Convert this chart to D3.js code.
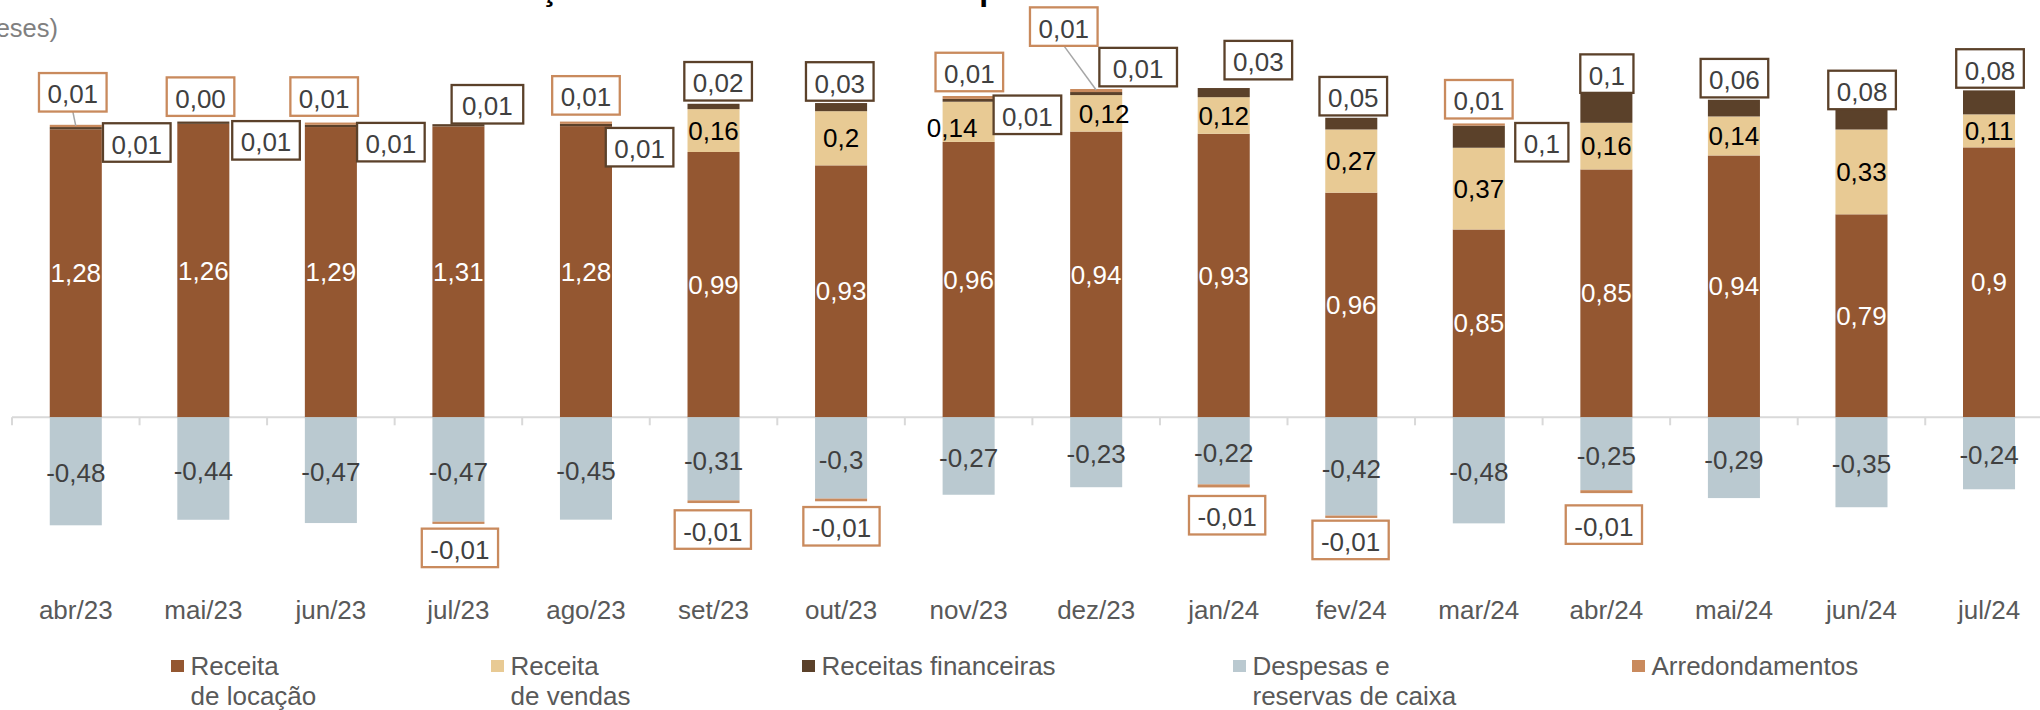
<!DOCTYPE html>
<html><head><meta charset="utf-8">
<script src="https://cdn.jsdelivr.net/npm/d3@7"></script>
<style>
body{margin:0;background:#fff;}
svg{display:block;}
text{font-family:"Liberation Sans",Arial,sans-serif;}
</style>
</head><body>
<svg id="chart" width="2040" height="710"></svg>
<script>
// ---------------- DATA ----------------
const meses = ["abr/23","mai/23","jun/23","jul/23","ago/23","set/23","out/23","nov/23","dez/23","jan/24","fev/24","mar/24","abr/24","mai/24","jun/24","jul/24"];
const receitaLocacao      = [1.28,1.26,1.29,1.31,1.28,0.99,0.93,0.96,0.94,0.93,0.96,0.85,0.85,0.94,0.79,0.90];
const receitaVendas       = [0,0,0,0,0,0.16,0.20,0.14,0.12,0.12,0.27,0.37,0.16,0.14,0.33,0.11];
const receitasFinanceiras = [0.01,0.01,0.01,0.01,0.01,0.02,0.03,0.01,0.01,0.03,0.05,0.10,0.10,0.06,0.08,0.08];
const despesasReservas    = [-0.48,-0.44,-0.47,-0.47,-0.45,-0.31,-0.30,-0.27,-0.23,-0.22,-0.42,-0.48,-0.25,-0.29,-0.35,-0.24];
const arredondamentos     = [0.01,0,0.01,-0.01,0.01,-0.01,-0.01,0.01,0.01,-0.01,-0.01,0.01,-0.01,null,null,null];
// bar heights in the reference are proportional to value x monthly factor (relative base of cotas)
const fatorCotas          = [1.00,1.035,1.00,0.987,1.011,1.191,1.204,1.275,1.351,1.355,1.04,0.982,1.296,1.238,1.142,1.333];
const legendaNomes = [["Receita","de locação"],["Receita","de vendas"],["Receitas financeiras"],["Despesas e","reservas de caixa"],["Arredondamentos"]];
const subtitulo = "(últimos 16 meses)";
const titulo = "Evolução do resultado distribuído por cota";

// ---------------- STYLE / LAYOUT ----------------
const cores = {loc:"#945731", ven:"#E8CA94", fin:"#5B412A", desp:"#BAC9D0", arr:"#C98A5D"};
const FS = 26;
// callout boxes: [dx from bar centre, dy of box centre from stack top/bottom, leader line / extra width]
const caixaFin = {
 "abr/23":[61,17.7],"mai/23":[62.7,18.8],"jun/23":[60,19.6],"jul/23":[29,-19.9,0,4],"ago/23":[53.6,25.6],
 "set/23":[4.6,-22.5],"out/23":[-1.3,-21.6],"nov/23":[58.8,18.8],"dez/23":[42,-21.9,0,10],"jan/24":[34.6,-27.9],
 "fev/24":[2,-21.6],"mar/24":[63,18.8],"abr/24":[0.5,-20],"mai/24":[0.5,-21.6],"jun/24":[0.6,-19],"jul/24":[1,-21.9]
};
const caixaArr = {
 "abr/23":[-3,-32.5,1],"mai/23":[-2.8,-24.9],"jun/23":[-6.7,-26],"ago/23":[0,-26.2],"nov/23":[0.7,-24],
 "dez/23":[-32.4,-62.4,1],"mar/24":[0,-24.2],
 "jul/23":[1.5,24],"set/23":[-0.7,26.5],"out/23":[0.4,25],"jan/24":[3.4,27.8],"fev/24":[-0.7,22],"abr/24":[-2.5,31.5]
};
const ajusteVendas = {"nov/23":[-16.5,6],"dez/23":[8,1]};
const legendaX = [171,491,802,1233,1632];

const loc = d3.formatLocale({decimal:",",thousands:".",grouping:[3],currency:["R$",""],minus:"-"});
const f2 = loc.format(".2~f");
const fmt = v => (Math.abs(v) < 0.005 ? "0,00" : f2(v));

const svg = d3.select("#chart");
const step = 127.55;
const x = d3.scaleBand().domain(meses).range([12, 12 + 16*step]).paddingInner(0.592).paddingOuter(0.296);
const y = d3.scaleLinear().domain([-0.6, 1.8]).range([552.3, 12.3]);
const bw = x.bandwidth();
const cx = m => x(m) + bw/2;

// title (above the visible area, only descenders show) and subtitle
svg.append("text").attr("x",453).attr("y",0).attr("font-size",32).attr("font-weight","bold").attr("fill","#000").text(titulo);
svg.append("text").attr("x",58).attr("y",37).attr("text-anchor","end").attr("font-size",25.5)
   .attr("font-family","Roboto, sans-serif").attr("font-weight",300).attr("fill","#808080").text(subtitulo);

// axis line + ticks
const y0 = y(0);
svg.append("line").attr("x1",12).attr("x2",2040).attr("y1",y0).attr("y2",y0).attr("stroke","#D9D9D9").attr("stroke-width",2);
const tickXs = meses.map(m => x(m) - x.step()*x.paddingInner()/2).concat([12+16*step]);
svg.selectAll("line.tick").data(tickXs).enter().append("line").attr("class","tick")
  .attr("x1",d=>d).attr("x2",d=>d).attr("y1",y0).attr("y2",y0+8).attr("stroke","#D9D9D9").attr("stroke-width",2);

// build segments
const segs = [];
meses.forEach((m,i) => {
  const f = fatorCotas[i];
  let acc = 0;
  const pos = [["loc",receitaLocacao[i]],["ven",receitaVendas[i]],["fin",receitasFinanceiras[i]]];
  if (arredondamentos[i] !== null && arredondamentos[i] >= 0) pos.push(["arr",arredondamentos[i]]);
  pos.forEach(([k,v]) => { if (v>0 || k==="arr") { segs.push({m,i,k,v,a:acc,b:acc+v*f}); acc += v*f; } });
  let nacc = 0;
  const neg = [["desp",despesasReservas[i]]];
  if (arredondamentos[i] !== null && arredondamentos[i] < 0) neg.push(["arr",arredondamentos[i]]);
  neg.forEach(([k,v]) => { segs.push({m,i,k,v,a:nacc+v*f,b:nacc}); nacc += v*f; });
});

svg.selectAll("rect.seg").data(segs).enter().append("rect").attr("class","seg")
  .attr("x",d=>x(d.m)).attr("width",bw)
  .attr("y",d=>y(d.b)).attr("height",d=>Math.max(0,y(d.a)-y(d.b)))
  .attr("fill",d=>cores[d.k]);

// in-bar labels
const inner = segs.filter(d => d.k==="loc" || d.k==="ven" || d.k==="desp");
svg.selectAll("text.in").data(inner).enter().append("text").attr("class","in")
  .attr("x",d=> cx(d.m) + (d.k==="ven" && ajusteVendas[d.m] ? ajusteVendas[d.m][0] : 0))
  .attr("y",d=> (y(d.a)+y(d.b))/2 + (d.k==="ven" && ajusteVendas[d.m] ? ajusteVendas[d.m][1] : 0) + (d.k==="desp"?2:0))
  .attr("dy","0.35em").attr("text-anchor","middle").attr("font-size",FS)
  .attr("fill",d=> d.k==="loc" ? "#FFFFFF" : d.k==="ven" ? "#000000" : "#404040")
  .text(d=>fmt(d.v));

// callout boxes
function caixa(cxp, cyp, txt, stroke, extra){
  const g = svg.append("g");
  const r = g.append("rect").attr("fill","#fff").attr("stroke",stroke).attr("stroke-width",2.3);
  const t = g.append("text").attr("x",cxp).attr("y",cyp+2).attr("dy","0.35em").attr("text-anchor","middle")
     .attr("font-size",FS).attr("fill","#404040").text(txt);
  const w = t.node().getComputedTextLength() + 17 + (extra||0), h = 38.5;
  r.attr("x",cxp-w/2).attr("y",cyp-h/2).attr("width",w).attr("height",h);
}
meses.forEach((m,i) => {
  const f = fatorCotas[i];
  const top = y(receitaLocacao[i]*f + receitaVendas[i]*f + receitasFinanceiras[i]*f + (arredondamentos[i]>0 ? arredondamentos[i]*f : 0));
  const bot = y(despesasReservas[i]*f + (arredondamentos[i]!==null && arredondamentos[i]<0 ? arredondamentos[i]*f : 0));
  const cf = caixaFin[m];
  caixa(cx(m)+cf[0], top+cf[1], fmt(receitasFinanceiras[i]), cores.fin, cf[3]);
  if (arredondamentos[i] !== null) {
    const ca = caixaArr[m];
    const v = arredondamentos[i];
    const bcx = cx(m)+ca[0], bcy = (v>=0 ? top : bot) + ca[1];
    if (ca[2]) {
      svg.insert("line","g").attr("x1",bcx).attr("y1",bcy+19).attr("x2",cx(m)).attr("y2",top+1)
        .attr("stroke","#A6A6A6").attr("stroke-width",1.5);
    }
    caixa(bcx, bcy, fmt(v), cores.arr, 0);
  }
});

// x labels
svg.selectAll("text.xl").data(meses).enter().append("text").attr("class","xl")
  .attr("x",d=>cx(d)).attr("y",619).attr("text-anchor","middle").attr("font-size",FS).attr("fill","#595959").text(d=>d);

// legend
const keys = ["loc","ven","fin","desp","arr"];
keys.forEach((k,j) => {
  const lx = legendaX[j];
  svg.append("rect").attr("x",lx).attr("y",660).attr("width",13).attr("height",12).attr("fill",cores[k]);
  const t = svg.append("text").attr("x",lx+19.5).attr("y",675).attr("font-size",FS).attr("fill","#595959");
  legendaNomes[j].forEach((s,n) => t.append("tspan").attr("x",lx+19.5).attr("dy", n===0?0:30).text(s));
});
</script>
</body></html>
